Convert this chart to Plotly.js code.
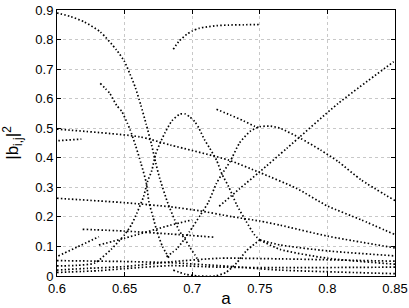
<!DOCTYPE html>
<html><head><meta charset="utf-8">
<script src="https://cdn.plot.ly/plotly-3.0.1.min.js"></script>
<style>body{margin:0;padding:0;background:#fff}#c{width:409px;height:308px}</style>
</head><body><div id="c"></div>
<script>
const xTicks=[0.6,0.65,0.7,0.75,0.8,0.85];
const xTickLabels=["0.6","0.65","0.7","0.75","0.8","0.85"];
const yTicks=[0,0.1,0.2,0.3,0.4,0.5,0.6,0.7,0.8,0.9];
const yTickLabels=["0","0.1","0.2","0.3","0.4","0.5","0.6","0.7","0.8","0.9"];

const plateauX=[0.686,0.690,0.696,0.700,0.705,0.711,0.718,0.727,0.738,0.750];
const plateauY=[0.767,0.793,0.818,0.829,0.838,0.843,0.847,0.849,0.850,0.851];
const fallAX=[0.600,0.610,0.620,0.632,0.644,0.650,0.654,0.658,0.662,0.666,0.670,0.673,0.676,0.682,0.687,0.690,0.695,0.698,0.702,0.705];
const fallAY=[0.890,0.878,0.860,0.826,0.765,0.725,0.683,0.637,0.578,0.513,0.443,0.383,0.330,0.246,0.190,0.156,0.122,0.099,0.071,0.048];
const fallBX=[0.632,0.639,0.644,0.648,0.652,0.654,0.658,0.662,0.666,0.668,0.671,0.674,0.678,0.683];
const fallBY=[0.652,0.618,0.578,0.556,0.517,0.496,0.443,0.383,0.316,0.250,0.200,0.150,0.100,0.060];
const bump1X=[0.600,0.615,0.628,0.640,0.650,0.655,0.659,0.664,0.667,0.670,0.673,0.676,0.680,0.685,0.691,0.695,0.698,0.702,0.705,0.709,0.713,0.718,0.722,0.727,0.733,0.740,0.746,0.750];
const bump1Y=[0.034,0.036,0.044,0.090,0.140,0.173,0.212,0.268,0.320,0.355,0.413,0.447,0.486,0.525,0.548,0.548,0.539,0.522,0.500,0.462,0.432,0.392,0.345,0.302,0.240,0.184,0.140,0.122];
const bump2X=[0.681,0.689,0.698,0.706,0.712,0.718,0.722,0.728,0.735,0.743,0.750,0.758,0.765,0.780,0.795,0.808,0.825,0.850];
const bump2Y=[0.065,0.094,0.150,0.206,0.250,0.314,0.345,0.387,0.450,0.490,0.505,0.507,0.500,0.466,0.426,0.387,0.325,0.255];
const slopeX=[0.718,0.728,0.738,0.746,0.750];
const slopeY=[0.564,0.545,0.525,0.507,0.502];
const riseX=[0.720,0.735,0.750,0.770,0.808,0.849];
const riseY=[0.236,0.295,0.353,0.432,0.584,0.725];
const longX=[0.600,0.661,0.684,0.727,0.750,0.777,0.800,0.825,0.850];
const longY=[0.497,0.471,0.443,0.392,0.350,0.297,0.237,0.190,0.140];
const stubX=[0.601,0.618];
const stubY=[0.458,0.463];
const dX=[0.600,0.650,0.684,0.705,0.729,0.750,0.765,0.800,0.850];
const dY=[0.263,0.248,0.234,0.221,0.201,0.186,0.172,0.135,0.095];
const eX=[0.619,0.650,0.684,0.717];
const eY=[0.158,0.152,0.142,0.131];
const fX=[0.601,0.615,0.631];
const fY=[0.068,0.098,0.133];
const gX=[0.631,0.650,0.684,0.700];
const gY=[0.105,0.128,0.172,0.190];
const hX=[0.600,0.650,0.684,0.720,0.765,0.850];
const hY=[0.052,0.049,0.045,0.035,0.020,0.008];
const jX=[0.600,0.623,0.650,0.684,0.720,0.765,0.850];
const jY=[0.020,0.026,0.032,0.048,0.060,0.058,0.050];
const kX=[0.600,0.631,0.650,0.684,0.720,0.765,0.850];
const kY=[0.012,0.018,0.025,0.035,0.030,0.028,0.030];
const uX=[0.686,0.695,0.704,0.717,0.725,0.733,0.740,0.750];
const uY=[0.020,0.006,0.000,0.000,0.012,0.045,0.085,0.122];
const p1X=[0.750,0.765,0.800,0.850];
const p1Y=[0.122,0.105,0.085,0.068];
const p2X=[0.750,0.765,0.800,0.850];
const p2Y=[0.122,0.090,0.060,0.040];

const series=[[plateauX,plateauY],[fallAX,fallAY],[fallBX,fallBY],[bump1X,bump1Y],[bump2X,bump2Y],[slopeX,slopeY],[riseX,riseY],[longX,longY],[stubX,stubY],[dX,dY],[eX,eY],[fX,fY],[gX,gY],[hX,hY],[jX,jY],[kX,kY],[uX,uY],[p1X,p1Y],[p2X,p2Y]];
const traces=series.map(s=>({x:s[0],y:s[1],type:'scatter',mode:'lines',line:{color:'#000',width:1.7,dash:'1.5px,2.2px',shape:'spline',smoothing:0.6},hoverinfo:'skip',showlegend:false}));

const font={family:'Liberation Sans, Arial, sans-serif',size:13,color:'#000'};
const axBase={showline:true,linecolor:'#000',linewidth:1,mirror:'ticks',ticks:'inside',ticklen:4,tickcolor:'#000',showgrid:true,gridcolor:'#c8c8c8',griddash:'dot',gridwidth:1,zeroline:false,tickfont:font};
const layout={width:409,height:308,margin:{l:57,r:14,t:10,b:32},paper_bgcolor:'#fff',plot_bgcolor:'#fff',font:font,showlegend:false,
xaxis:Object.assign({},axBase,{range:[0.6,0.85],tickvals:xTicks,ticktext:xTickLabels,title:{text:'a',font:{family:font.family,size:17,color:'#000'},standoff:2}}),
yaxis:Object.assign({},axBase,{range:[0,0.9],tickvals:yTicks,ticktext:yTickLabels,title:{text:'|b<sub>i,j</sub>|<sup>2</sup>',font:{family:font.family,size:17,color:'#000'},standoff:12}})};
Plotly.newPlot('c',traces,layout,{staticPlot:true,displayModeBar:false});
</script></body></html>
